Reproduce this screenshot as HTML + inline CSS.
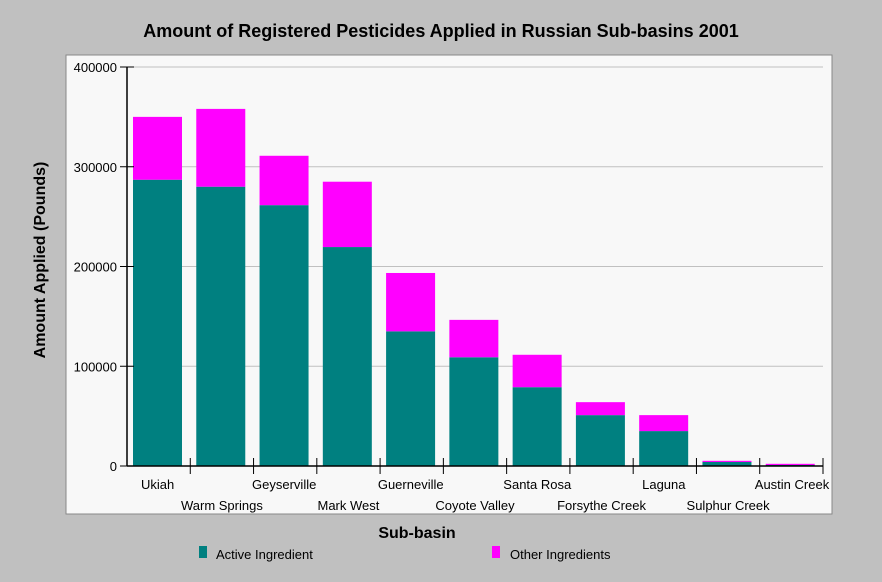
<!DOCTYPE html>
<html><head><meta charset="utf-8"><style>
body{margin:0;background:#c0c0c0;font-family:"Liberation Sans",sans-serif}
svg{display:block}
</style></head><body>
<svg width="882" height="582">
<rect x="0" y="0" width="882" height="582" fill="#c0c0c0"/>
<rect x="66" y="55" width="766" height="459" fill="#f8f8f8" stroke="#888" stroke-width="1"/>
<text x="441" y="37" text-anchor="middle" font-size="18" font-weight="bold" fill="#000">Amount of Registered Pesticides Applied in Russian Sub-basins 2001</text>
<text transform="translate(45,260) rotate(-90)" text-anchor="middle" font-size="16" font-weight="bold">Amount Applied (Pounds)</text>
<text x="417" y="538" text-anchor="middle" font-size="16" font-weight="bold">Sub-basin</text>
<g id="grid"></g><g id="bars"></g><g id="axes"></g>
<rect x="199" y="546" width="8" height="12" fill="#008080"/>
<text x="216" y="559" font-size="13">Active Ingredient</text>
<rect x="492" y="546" width="8" height="12" fill="#ff00ff"/>
<text x="510" y="559" font-size="13">Other Ingredients</text>
</svg>
<script>
const categories=["Ukiah","Warm Springs","Geyserville","Mark West","Guerneville","Coyote Valley","Santa Rosa","Forsythe Creek","Laguna","Sulphur Creek","Austin Creek"];
const activeValues=[287000,280000,261500,219500,135000,109000,79000,51000,35000,4000,1000];
const otherValues=[63000,78000,49500,65500,58500,37500,32500,13000,16000,1200,1200];
const yTicks=[0,100000,200000,300000,400000];
const NS="http://www.w3.org/2000/svg";
const x0=127,x1=823,y0=466,yTop=67,yMax=400000;
const y=v=>y0-(v/yMax)*(y0-yTop);
const cw=(x1-x0)/categories.length;
function mk(tag,attrs,parent){const e=document.createElementNS(NS,tag);for(const k in attrs)e.setAttribute(k,attrs[k]);document.getElementById(parent).appendChild(e);return e;}
yTicks.forEach(t=>{
 if(t>0){const g=mk('line',{x1:x0,x2:x1,y1:y(t),y2:y(t),stroke:'#c0c0c0'},'grid');
 
 }
 const tk=mk('line',{x1:x0-7,x2:x0+7,y1:y(t),y2:y(t),stroke:'#000'},'axes');
 
 
 const tl=mk('text',{x:x0-10,y:y(t)+5,'text-anchor':'end','font-size':13},'axes');
 tl.textContent=t;
 
 
});
categories.forEach((c,i)=>{
 const bx=x0+i*cw+6,bw=49;
 const a=mk('rect',{x:bx,y:y(activeValues[i]),width:bw,height:y0-y(activeValues[i]),fill:'#008080'},'bars');
 
 
 const tot=activeValues[i]+otherValues[i];
 const o=mk('rect',{x:bx,y:y(tot),width:bw,height:y(activeValues[i])-y(tot),fill:'#ff00ff'},'bars');
 
 
 const tx=x0+(i+1)*cw;
 const tk=mk('line',{x1:tx,x2:tx,y1:y0-8,y2:y0+8,stroke:'#000'},'axes');
 
 
 const cx=x0+(i+0.5)*cw+(i%2===0?-1:0);
 const l=mk('text',{x:i===10?792:cx,y:i%2===0?489:510,'text-anchor':'middle','font-size':13},'axes');
 l.textContent=c;
 
 
});
const ya=mk('line',{x1:x0,x2:x0,y1:yTop,y2:y0,stroke:'#000','stroke-width':1.5},'axes');


const xa=mk('line',{x1:x0,x2:x1,y1:y0,y2:y0,stroke:'#000','stroke-width':1.5},'axes');


</script>
</body></html>
